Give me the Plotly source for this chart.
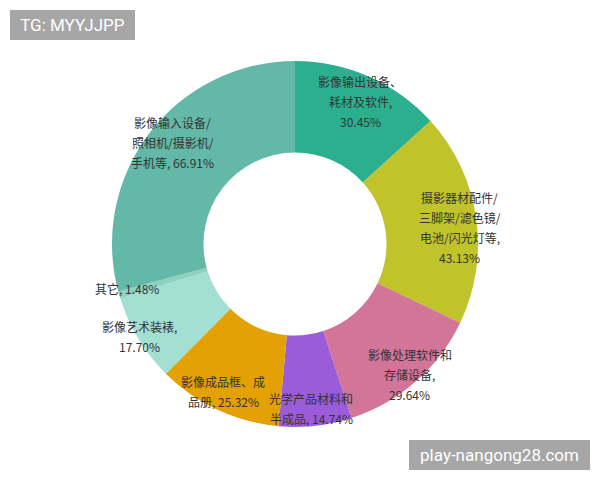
import math
import plotly.graph_objects as go

# ── data ──────────────────────────────────────────────
labels = [
    "影像输出设备、<br>耗材及软件,<br>30.45%",
    "摄影器材配件/<br>三脚架/滤色镜/<br>电池/闪光灯等,<br>43.13%",
    "影像处理软件和<br>存储设备,<br>29.64%",
    "光学产品材料和<br>半成品, 14.74%",
    "影像成品框、成<br>品册, 25.32%",
    "影像艺术装裱,<br>17.70%",
    "其它, 1.48%",
    "影像输入设备/<br>照相机/摄影机/<br>手机等, 66.91%",
]
values = [30.45, 43.13, 29.64, 14.74, 25.32, 17.70, 1.48, 66.91]

# ── style ────────────────────────────────────────────
COLORS = ["#2baf8f", "#c0c32a", "#d27598", "#9a5cd9",
          "#e3a104", "#a4dfd4", "#8dd2c0", "#63b8a8"]
# label placement: radius as a share of the outer radius, angle nudge in degrees
LABEL_R = [0.854, 0.906, 0.952, 0.903, 0.899, 0.991, 0.95, 0.866]
LABEL_DA = [0.7, 2.5, 0.0, 0.8, 0.9, 0.5, 1.2, 2.1]
LINE_H = 20
FONT = "Noto Sans CJK SC, Noto Sans, sans-serif"
W, H = 600, 480
CX, CY, R = 295, 244, 183  # pie centre and radius in px

fig = go.Figure(go.Pie(
    values=values,
    labels=labels,
    hole=0.5,
    sort=False,
    direction="clockwise",
    rotation=0,
    marker=dict(colors=COLORS, line=dict(width=0)),
    textinfo="none",
    hoverinfo="skip",
    showlegend=False,
    domain=dict(x=[(CX - R) / W, (CX + R) / W],
                y=[1 - (CY + R) / H, 1 - (CY - R) / H]),
))

# slice labels, placed at each slice's mid angle, one annotation per line
total = sum(values)
cum = 0
for lab, v, rf, da in zip(labels, values, LABEL_R, LABEL_DA):
    mid = (cum + v / 2) / total * 2 * math.pi + math.radians(da)
    cum += v
    px = CX + rf * R * math.sin(mid)
    py = CY - rf * R * math.cos(mid)
    lines = lab.split("<br>")
    n = len(lines)
    for i, line in enumerate(lines):
        fig.add_annotation(
            x=px / W, y=1 - py / H, xref="paper", yref="paper",
            xanchor="center", yanchor="middle",
            yshift=((n - 1) / 2 - i) * LINE_H,
            text=line, showarrow=False,
            font=dict(family=FONT, size=12, color="#333333"),
        )

# watermark boxes
fig.add_annotation(
    x=10 / W, y=1 - 10 / H, xref="paper", yref="paper",
    xanchor="left", yanchor="top", text="TG: MYYJJPP", showarrow=False,
    bgcolor="#a6a6a6", borderpad=0, borderwidth=0, width=125, height=30,
    font=dict(family="Roboto, sans-serif", size=17, color="white"),
)
fig.add_annotation(
    x=590 / W, y=1 - 440 / H, xref="paper", yref="paper",
    xanchor="right", yanchor="top", text="play-nangong28.com", showarrow=False,
    bgcolor="#a6a6a6", borderpad=0, borderwidth=0, width=181, height=30,
    font=dict(family="Roboto, sans-serif", size=17, color="white"),
)

fig.update_layout(
    width=W, height=H,
    margin=dict(l=0, r=0, t=0, b=0),
    paper_bgcolor="white", plot_bgcolor="white",
)

fig.write_html("out.html", config={"displayModeBar": False},
               post_script="document.body.style.margin='0';")
